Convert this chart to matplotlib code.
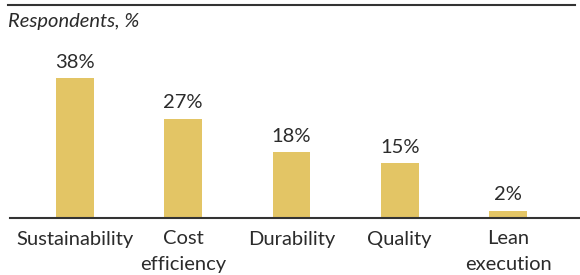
import matplotlib.pyplot as plt
from matplotlib.lines import Line2D

plt.rcParams['font.family'] = ['Lato', 'DejaVu Sans']

categories = ['Sustainability', 'Cost\nefficiency', 'Durability', 'Quality', 'Lean\nexecution']
values = [38, 27, 18, 15, 2]
labels = ['38%', '27%', '18%', '15%', '2%']

bar_color = '#E3C565'
text_color = '#2b2b2b'

fig = plt.figure(figsize=(5.8, 2.75), dpi=100)
ax = fig.add_axes([10 / 580, 57 / 275, 570 / 580, 147 / 275])

x = list(range(len(values)))
ax.bar(x, values, width=0.35, color=bar_color)
for xi, v, lab in zip(x, values, labels):
    ax.text(xi, v + 2.0, lab, ha='center', va='bottom', fontsize=14.5,
            color=text_color, clip_on=False)

ax.set_xlim(-0.6, 4.665)
ax.set_ylim(0, 40)
ax.set_xticks(x)
ax.set_xticklabels(categories, fontsize=14.5, color=text_color, linespacing=1.6)
ax.tick_params(axis='x', length=0, pad=9)
ax.set_yticks([])
for s in ['top', 'right', 'left']:
    ax.spines[s].set_visible(False)
ax.spines['bottom'].set_color('#333333')
ax.spines['bottom'].set_linewidth(1.5)

# top rule and subtitle
fig.add_artist(Line2D([8 / 580, 575 / 580], [1 - 5 / 275, 1 - 5 / 275],
                      color='#333333', linewidth=1.5))
fig.text(8 / 580, 1 - 22 / 275, 'Respondents, %', fontsize=14.5, style='italic',
         color=text_color, va='center', ha='left')

fig.savefig('out.png', dpi=100)
